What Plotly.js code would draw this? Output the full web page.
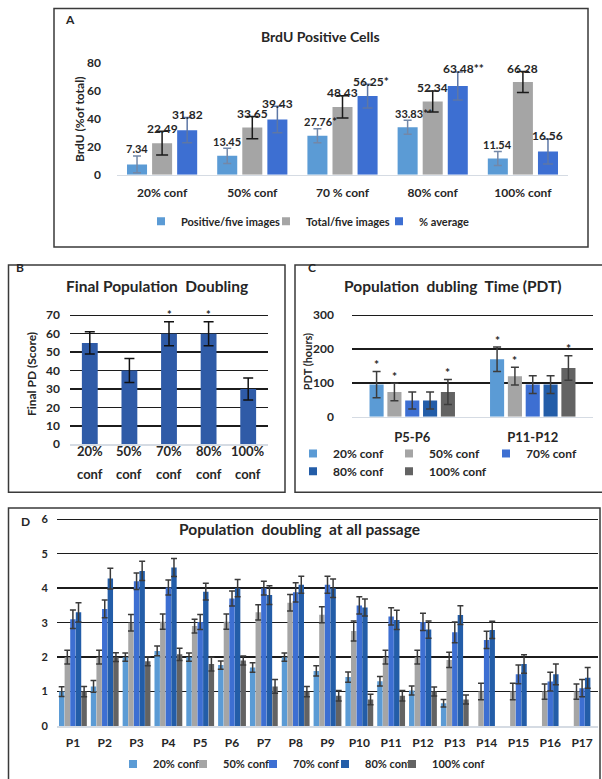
<!DOCTYPE html>
<html><head><meta charset="utf-8">
<script src="https://cdn.plot.ly/plotly-3.0.1.min.js"></script>
<style>html,body{margin:0;padding:0;background:#fff}#chart{width:602px;height:779px}</style>
</head><body><div id="chart"></div>
<script>
// ---------- Panel A: BrdU positive cells ----------
const brduCats = ['20% conf', '50% conf', '70 % conf', '80% conf', '100% conf'];
const brduPositive = [7.34, 13.45, 27.76, 33.83, 11.54];
const brduPositiveErr = [6, 5.5, 5, 5, 5];
const brduPositiveStars = ['', '', '*', '**', ''];
const brduTotal = [22.49, 33.65, 48.43, 52.34, 66.28];
const brduTotalErr = [8.5, 8, 8, 7.5, 7.5];
const brduTotalStars = ['', '', '', '', ''];
const brduAverage = [31.82, 39.43, 56.25, 63.48, 16.56];
const brduAverageErr = [9, 9.5, 8.5, 10, 9];
const brduAverageStars = ['', '', '*', '**', ''];
const brduSeries = ['Positive/five images', 'Total/five images', '% average'];

// ---------- Panel B: Final population doubling ----------
const fpdCats = ['20% conf', '50% conf', '70% conf', '80% conf', '100% conf'];
const fpdValues = [55, 40, 60, 60, 30];
const fpdErr = [6, 6.5, 6.5, 6.5, 6];
const fpdStars = ['', '', '*', '*', ''];

// ---------- Panel C: Population doubling time ----------
const pdtCats = ['P5-P6', 'P11-P12'];
const pdtSeries = ['20% conf', '50% conf', '70% conf', '80% conf', '100% conf'];
const pdt20 = [95, 170];   const pdt20Err = [39, 36];  const pdt20Stars = ['*', '*'];
const pdt50 = [73, 120];   const pdt50Err = [26, 26];  const pdt50Stars = ['*', '*'];
const pdt70 = [48, 95];    const pdt70Err = [25, 26];  const pdt70Stars = ['', ''];
const pdt80 = [48, 95];    const pdt80Err = [25, 26];  const pdt80Stars = ['', ''];
const pdt100 = [73, 144];  const pdt100Err = [37, 36]; const pdt100Stars = ['*', '*'];

// ---------- Panel D: Population doubling at all passages ----------
const passages = ['P1','P2','P3','P4','P5','P6','P7','P8','P9','P10','P11','P12','P13','P14','P15','P16','P17'];
const pd20 = [1.0, 1.15, 2.0, 2.18, 2.0, 1.77, 1.7, 2.0, 1.6, 1.42, 1.3, 1.03, 0.66, null, null, null, null];
const pd20Err = [0.14, 0.17, 0.12, 0.14, 0.12, 0.12, 0.14, 0.12, 0.15, 0.15, 0.14, 0.13, 0.11, null, null, null, null];
const pd50 = [2.0, 2.0, 3.0, 3.03, 2.9, 3.03, 3.3, 3.58, 3.23, 2.76, 2.0, 2.0, 1.92, 1.0, 1.0, 1.0, 1.0];
const pd50Err = [0.2, 0.2, 0.24, 0.22, 0.2, 0.22, 0.22, 0.24, 0.23, 0.29, 0.2, 0.2, 0.22, 0.24, 0.24, 0.22, 0.22];
const pd70 = [3.1, 3.4, 4.2, 4.02, 3.02, 3.7, 4.0, 3.88, 4.1, 3.5, 3.18, 3.02, 2.72, 2.5, 1.5, 1.29, 1.1];
const pd70Err = [0.27, 0.26, 0.24, 0.22, 0.22, 0.22, 0.2, 0.28, 0.25, 0.25, 0.25, 0.25, 0.3, 0.25, 0.27, 0.27, 0.25];
const pd80 = [3.3, 4.28, 4.5, 4.6, 3.9, 4.0, 3.8, 4.1, 4.0, 3.44, 3.08, 2.8, 3.22, 2.79, 1.8, 1.5, 1.4];
const pd80Err = [0.28, 0.3, 0.28, 0.26, 0.24, 0.25, 0.27, 0.25, 0.27, 0.25, 0.28, 0.25, 0.27, 0.25, 0.27, 0.3, 0.3];
const pd100 = [1.0, 2.0, 1.88, 2.08, 1.8, 1.9, 1.15, 1.0, 0.88, 0.77, 0.88, 1.0, 0.77, null, null, null, null];
const pd100Err = [0.15, 0.13, 0.13, 0.18, 0.2, 0.13, 0.2, 0.15, 0.15, 0.15, 0.15, 0.13, 0.13, null, null, null, null];

// ---------- styling ----------
const FONT = 'Lato, "Liberation Sans", Arial, sans-serif';
const TXT = '#262626';
const W = 602, H = 779;
const px = v => v / W;
const py = v => 1 - v / H;
const C_LIGHT = '#5b9bd5', C_GRAY = '#a5a5a5', C_BLUE = '#3d6fd2', C_DBLUE = '#235da8', C_DGRAY = '#636363';
const bold = (size) => ({family: FONT, size: size, color: TXT, weight: 'bold'});

function bar(xs, ys, errs, color, errColor, errW, center, width, xa, ya, name) {
  return {
    type: 'bar', x: xs, y: ys, name: name, xaxis: xa, yaxis: ya,
    marker: {color: color, line: {width: 0}},
    offset: center - width / 2, width: width,
    error_y: {type: 'data', array: errs, visible: true, color: errColor, thickness: 1.5, width: errW},
    showlegend: false, hoverinfo: 'skip'
  };
}
// legend glyph: a small square entry for the series (no data points of its own)
function legendEntry(xs, name, color, xa, ya, legend) {
  return {type: 'scatter', mode: 'markers', x: [xs[0]], y: [null], name: name, xaxis: xa, yaxis: ya,
    marker: {symbol: 'square', size: 8, color: color}, legend: legend, showlegend: true, hoverinfo: 'skip'};
}

const traces = [];
const annotations = [];

// Panel A traces
const aW = 0.222, aStep = 0.278;
const aSets = [
  [brduPositive, brduPositiveErr, brduPositiveStars, C_LIGHT, '#7388a8', 4, 'legend', 11, 7],
  [brduTotal, brduTotalErr, brduTotalStars, C_GRAY, '#1a1a1a', 6, 'legend2', 12, 3],
  [brduAverage, brduAverageErr, brduAverageStars, C_BLUE, '#5d77a6', 5, 'legend3', 12, 3]
];
aSets.forEach((s, k) => {
  const c = (k - 1) * aStep;
  traces.push(bar(brduCats, s[0], s[1], s[3], s[4], s[5], c, aW, 'x', 'y', brduSeries[k]));
  traces.push(legendEntry(brduCats, brduSeries[k], s[3], 'x', 'y', s[6]));
  s[0].forEach((v, i) => {
    annotations.push({xref: 'x', yref: 'y', x: i + c, y: v + s[1][i], text: v.toFixed(2) + s[2][i],
      showarrow: false, yanchor: 'middle', xanchor: 'center', yshift: s[8], xshift: s[2][i].length * 3,
      font: bold(s[7])});
  });
});

// Panel B trace
traces.push(bar(fpdCats, fpdValues, fpdErr, '#2f5ba7', '#111', 5, 0, 0.40, 'x2', 'y2', 'Final PD'));
fpdCats.forEach((c, i) => {
  const parts = c.split(' ');
  annotations.push({xref: 'x2', yref: 'paper', x: i, y: py(455), text: parts[0], showarrow: false, yanchor: 'middle', font: bold(13)});
  annotations.push({xref: 'x2', yref: 'paper', x: i, y: py(478), text: parts[1], showarrow: false, yanchor: 'middle', font: bold(13)});
  if (fpdStars[i]) annotations.push({xref: 'x2', yref: 'y2', x: i, y: fpdValues[i] + fpdErr[i], text: fpdStars[i],
    showarrow: false, yanchor: 'middle', yshift: 7, font: bold(11)});
});

// Panel C traces
const cW = 0.117, cStep = 0.148;
const cSets = [
  [pdt20, pdt20Err, pdt20Stars, C_LIGHT, 'legend4'],
  [pdt50, pdt50Err, pdt50Stars, C_GRAY, 'legend5'],
  [pdt70, pdt70Err, pdt70Stars, C_BLUE, 'legend6'],
  [pdt80, pdt80Err, pdt80Stars, C_DBLUE, 'legend7'],
  [pdt100, pdt100Err, pdt100Stars, C_DGRAY, 'legend8']
];
cSets.forEach((s, k) => {
  const c = (k - 2) * cStep;
  traces.push(bar(pdtCats, s[0], s[1], s[3], '#3c3c3c', 4, c, cW, 'x3', 'y3', pdtSeries[k]));
  traces.push(legendEntry(pdtCats, pdtSeries[k], s[3], 'x3', 'y3', s[4]));
  s[0].forEach((v, i) => {
    if (s[2][i]) annotations.push({xref: 'x3', yref: 'y3', x: i + c, y: v + s[1][i], text: s[2][i],
      showarrow: false, yanchor: 'middle', yshift: 7, font: bold(12)});
  });
});

// Panel D traces
const dW = 0.17, dStep = 0.176;
const dSets = [
  [pd20, pd20Err, C_LIGHT, 'legend9'],
  [pd50, pd50Err, C_GRAY, 'legend10'],
  [pd70, pd70Err, C_BLUE, 'legend11'],
  [pd80, pd80Err, C_DBLUE, 'legend12'],
  [pd100, pd100Err, C_DGRAY, 'legend13']
];
dSets.forEach((s, k) => {
  const c = (k - 2) * dStep;
  traces.push(bar(passages, s[0], s[1], s[2], '#3a3a3a', 3, c, dW, 'x4', 'y4', pdtSeries[k]));
  traces.push(legendEntry(passages, pdtSeries[k], s[2], 'x4', 'y4', s[3]));
});

// Axes helpers
function xAx(x0, x1, yId, n, showLabels, fontSize, standoff) {
  return {domain: [px(x0), px(x1)], anchor: yId, type: 'category', range: [-0.5, n - 0.5],
    showgrid: false, zeroline: false, showline: true, linecolor: '#d5dbe3', linewidth: 1.5,
    ticks: '', showticklabels: showLabels, tickfont: bold(fontSize), ticklabelstandoff: standoff, fixedrange: true};
}
function yAx(zeroPx, valPx, val, top, dtick, grid, xId, fontSize, standoff) {
  const ppu = (zeroPx - valPx) / val;
  const topPx = zeroPx - ppu * top;
  return {domain: [py(zeroPx), py(topPx)], anchor: xId, range: [0, top], dtick: dtick, tick0: 0,
    showgrid: grid, gridcolor: '#1c1c1c', gridwidth: 1.5, zeroline: false, showline: false,
    ticks: '', tickfont: bold(fontSize), ticklabelstandoff: standoff, fixedrange: true};
}

// Legends: one per entry so each entry sits where it does in the figure
function leg(textX, yC, size) {
  return {x: px(textX - 39), y: py(yC), xanchor: 'left', yanchor: 'middle', orientation: 'h',
    bgcolor: 'rgba(0,0,0,0)', borderwidth: 0, font: bold(size), itemclick: false, itemdoubleclick: false,
    itemsizing: 'trace', tracegroupgap: 0};
}

// Panel frames
function frame(x0, y0, x1, y1) {
  return {type: 'rect', xref: 'paper', yref: 'paper', x0: px(x0), x1: px(x1), y0: py(y1), y1: py(y0),
    line: {color: '#3a3a3a', width: 1.5}, fillcolor: 'rgba(0,0,0,0)', layer: 'below'};
}
const shapes = [frame(54, 8.5, 588, 249), frame(8.5, 267, 285, 496), frame(295, 267, 610, 496), frame(8.5, 512, 600, 790)];

function txt(x, y, text, size, extra) {
  return Object.assign({xref: 'paper', yref: 'paper', x: px(x), y: py(y), text: text, showarrow: false,
    xanchor: 'center', yanchor: 'middle', font: bold(size)}, extra || {});
}
annotations.push(
  txt(70, 20, 'A', 12), txt(20, 270, 'B', 12), txt(312, 270, 'C', 12), txt(25, 526, 'D', 12),
  txt(320, 37, 'BrdU Positive Cells', 14),
  txt(157, 288, 'Final Population  Doubling', 15.5),
  txt(453, 288, 'Population  dubling  Time (PDT)', 15.5),
  txt(299, 533, 'Population  doubling  at all passage', 15.5),
  txt(79, 120, 'BrdU (%of total)', 12, {textangle: -90}),
  txt(31, 377, 'Final PD (Score)', 12, {textangle: -90}),
  txt(307, 365, 'PDT (hours)', 11, {textangle: -90})
);

const layout = {
  width: W, height: H, margin: {l: 0, r: 0, t: 0, b: 0, pad: 0},
  paper_bgcolor: '#fff', plot_bgcolor: 'rgba(0,0,0,0)',
  barmode: 'overlay', font: bold(12), showlegend: true,
  xaxis: xAx(117, 568, 'y', 5, true, 12, 6),
  yaxis: yAx(176, 63.3, 80, 80, 20, false, 'x', 12, 15),
  xaxis2: xAx(70, 268, 'y2', 5, false, 12, 6),
  yaxis2: yAx(447.7, 317.7, 70, 70.7, 10, true, 'x2', 12, 9),
  xaxis3: xAx(352, 593, 'y3', 2, true, 13, 8),
  yaxis3: yAx(420, 317.7, 300, 303, 100, true, 'x3', 12, 17),
  xaxis4: xAx(57, 598, 'y4', 17, true, 12, 5),
  yaxis4: yAx(731.7, 523.3, 6, 6.06, 1, true, 'x4', 11, 8),
  legend: leg(180, 223, 11), legend2: leg(305, 223, 11), legend3: leg(418, 223, 11),
  legend4: leg(332, 457, 12), legend5: leg(428, 457, 12), legend6: leg(525, 457, 12),
  legend7: leg(332, 475, 12), legend8: leg(428, 475, 12),
  legend9: leg(152, 770, 11), legend10: leg(222, 770, 11), legend11: leg(292, 770, 11),
  legend12: leg(364, 770, 11), legend13: leg(431, 770, 11),
  shapes: shapes, annotations: annotations
};

Plotly.newPlot('chart', traces, layout, {staticPlot: true, displayModeBar: false});
</script>
</body></html>
